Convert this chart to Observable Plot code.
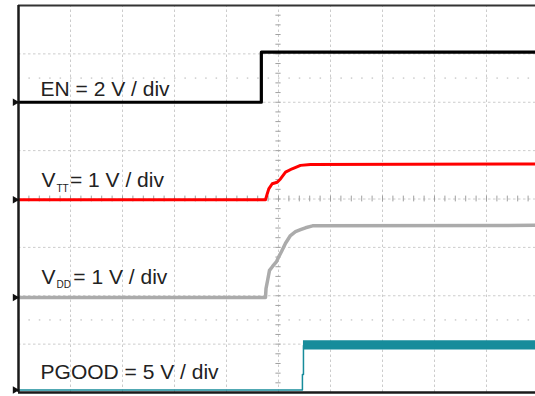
<!DOCTYPE html>
<html><head><meta charset="utf-8">
<script src="https://cdn.jsdelivr.net/npm/d3@7"></script>
<script src="https://cdn.jsdelivr.net/npm/@observablehq/plot@0.6"></script>
<style>html,body{margin:0;padding:0;background:#fff;} svg{display:block;}</style>
</head><body><div id="chart"></div>
<script>
// ---- channel data (time in divisions from screen centre, values in volts) ----
const channelNames = ["EN", "VTT", "VDD", "PGOOD"];
const voltsPerDiv = [2, 1, 1, 5];
const groundDiv = [6.0, 3.985, 1.965, 0.05];
const traceColors = ["#000000", "#ff0000", "#ababab", "#178c9b"];

const enT = [-5, -0.33, -0.33, 5];
const enV = [0, 0, 2.07, 2.07];

const vttT = [-5, -0.25, -0.22, -0.187, -0.121, -0.025, 0.038, 0.135, 0.263, 0.423, 0.615, 5];
const vttV = [0, 0, 0.11, 0.225, 0.33, 0.36, 0.43, 0.57, 0.64, 0.71, 0.73, 0.74];

const vddT = [-5, -0.25, -0.24, -0.21, -0.173, -0.115, -0.038, 0, 0.058, 0.135, 0.23, 0.327, 0.423, 0.519, 0.654, 5];
const vddV = [0, 0, 0.185, 0.35, 0.56, 0.64, 0.74, 0.83, 0.95, 1.12, 1.28, 1.36, 1.40, 1.44, 1.48, 1.49];

const pgT = [-5, 0.46, 0.46, 0.48, 0.48, 5];
const pgV = [0, 0, 1.61, 1.61, 4.61, 4.61];
const pgBandT = [0.48, 5];
const pgBandLo = [4.15, 4.15];
const pgBandHi = [5.1, 5.1];

// ---- labels ----
const labelMain = ["EN = 2 V / div", "V", "V", "PGOOD = 5 V / div"];
const labelSub = ["", "TT", "DD", ""];
const labelRest = ["", "= 1 V / div", "= 1 V / div", ""];

// ---- grid ----
const gridX = d3.range(-5, 5.001, 1);
const gridY = d3.range(0, 8.001, 1);
const minorX = d3.range(-5, 5.001, 0.2);
const minorY = d3.range(0, 8.001, 0.2);
const dotRows = [6.5, 1.5];

// ---- layout (div units) ----
const labelX = [-4.575, -4.558, -4.558, -4.575];
const labelY = [6.139, 4.238, 2.253, 0.269];
const subX = [0, -4.27, -4.27, 0];
const subY = [0, 4.15, 2.165, 0];
const restX = [0, -4.01, -3.945, 0];

const toDiv = (T, V, i) => T.map((t, k) => ({t, y: groundDiv[i] + V[k] / voltsPerDiv[i]}));
const en = toDiv(enT, enV, 0);
const vtt = toDiv(vttT, vttV, 1);
const vdd = toDiv(vddT, vddV, 2);
const pg = toDiv(pgT, pgV, 3);
const pgBand = pgBandT.map((t, k) => ({t, lo: groundDiv[3] + pgBandLo[k] / 5, hi: groundDiv[3] + pgBandHi[k] / 5}));

const labels = channelNames.map((c, i) => ({i, main: labelMain[i], sub: labelSub[i], rest: labelRest[i]}));
const font = "Liberation Sans, Arial, Helvetica, sans-serif";

const chart = Plot.plot({
  width: 535,
  height: 396,
  margin: 0,
  x: {domain: [-5, 5], range: [18, 538], axis: null},
  y: {domain: [0, 8], range: [392, 5], axis: null},
  style: {background: "#fff", fontFamily: font},
  marks: [
    Plot.ruleX(gridX, {x: d => d, y1: 0, y2: 8, stroke: "#cccccc", strokeWidth: 1, strokeDasharray: "2.5,2.5"}),
    Plot.ruleY(gridY, {y: d => d, x1: -5, x2: 5, stroke: "#cccccc", strokeWidth: 1, strokeDasharray: "2.5,2.5"}),
    Plot.ruleY(dotRows, {y: d => d, x1: -5, x2: 5, stroke: "#b4b4b4", strokeWidth: 1, strokeDasharray: "1.5,8.9"}),
    Plot.ruleY(minorY, {y: d => d, x1: -0.05, x2: 0.05, stroke: "#a0a0a0", strokeWidth: 1}),
    Plot.ruleX(minorX, {x: d => d, y1: 3.94, y2: 4.06, stroke: "#a0a0a0", strokeWidth: 1}),
    // traces
    Plot.areaY(pgBand, {x: "t", y1: "lo", y2: "hi", fill: traceColors[3], curve: "linear"}),
    Plot.line(pg, {x: "t", y: "y", stroke: traceColors[3], strokeWidth: 1.5}),
    Plot.line(vdd, {x: "t", y: "y", stroke: traceColors[2], strokeWidth: 3.5}),
    Plot.line(vtt, {x: "t", y: "y", stroke: traceColors[1], strokeWidth: 3}),
    Plot.line(en, {x: "t", y: "y", stroke: traceColors[0], strokeWidth: 3.2}),
    // frame
    Plot.ruleY([8], {x1: -5, x2: 5, stroke: "#333", strokeWidth: 2}),
    Plot.ruleY([0], {x1: -5, x2: 5, stroke: "#1a1a1a", strokeWidth: 2.5}),
    Plot.ruleX([-5], {y1: 0, y2: 8, stroke: "#1a1a1a", strokeWidth: 2.5}),
    // ground markers
    Plot.dot(groundDiv, {x: -5, y: d => d, symbol: "triangle", rotate: 90, r: 2.8, fill: "#111", stroke: "none", dx: -3.5}),
    // labels
    Plot.text(labels, {x: d => labelX[d.i], y: d => labelY[d.i], text: "main", textAnchor: "start", lineAnchor: "bottom", fontSize: 21, fill: "#222"}),
    Plot.text(labels.filter(d => d.sub), {x: d => subX[d.i], y: d => subY[d.i], text: "sub", textAnchor: "start", lineAnchor: "bottom", fontSize: 10, fill: "#222"}),
    Plot.text(labels.filter(d => d.rest), {x: d => restX[d.i], y: d => labelY[d.i], text: "rest", textAnchor: "start", lineAnchor: "bottom", fontSize: 21, fill: "#222"})
  ]
});
document.getElementById("chart").append(chart);
</script>
</body></html>
